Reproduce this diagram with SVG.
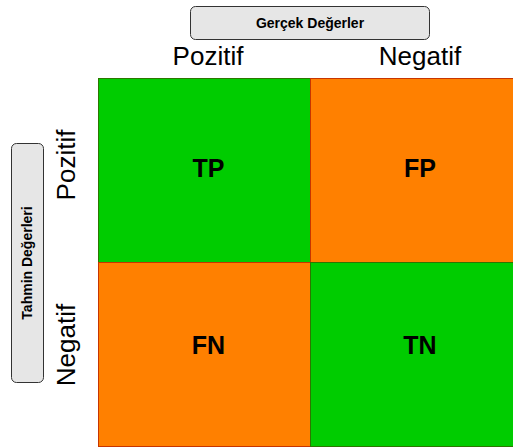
<svg xmlns="http://www.w3.org/2000/svg" width="513" height="448" viewBox="0 0 513 448">
<style>
.btn{fill:#E6E6E6;stroke:#333333;stroke-width:1}
.btxt{font-family:"Liberation Sans",Arial,sans-serif;font-size:14px;font-weight:bold;fill:#000;text-anchor:middle}
.ax{font-family:"Liberation Sans",Arial,sans-serif;font-size:26px;fill:#000;text-anchor:middle}
.g{fill:#00CC00;stroke:#2D7600;stroke-width:1}
.o{fill:#FF8000;stroke:#C73500;stroke-width:1}
.cl{font-family:"Liberation Sans",Arial,sans-serif;font-size:25px;font-weight:bold;fill:#000;text-anchor:middle}
</style>
<rect width="513" height="448" fill="#ffffff"/>
<g id="gercek">
<rect class="btn" x="190.5" y="6.5" width="239" height="33" rx="5"/>
<text class="btxt" x="310" y="28">Gerçek Değerler</text>
</g>
<g id="tahmin">
<rect class="btn" x="11.5" y="143.5" width="32" height="239" rx="5"/>
<text class="btxt" transform="translate(32,263) rotate(-90)">Tahmin Değerleri</text>
</g>
<g id="col-pozitif"><text class="ax" x="208" y="65">Pozitif</text></g>
<g id="col-negatif"><text class="ax" x="420" y="65">Negatif</text></g>
<g id="row-pozitif"><text class="ax" transform="translate(75,165) rotate(-90)">Pozitif</text></g>
<g id="row-negatif"><text class="ax" transform="translate(75,345) rotate(-90)">Negatif</text></g>
<g id="TP"><rect class="g" x="98.5" y="78.5" width="212" height="184"/><text class="cl" x="208.5" y="177">TP</text></g>
<g id="FP"><rect class="o" x="310.5" y="78.5" width="212" height="184"/><text class="cl" x="420" y="177">FP</text></g>
<g id="FN"><rect class="o" x="98.5" y="262.5" width="212" height="184"/><text class="cl" x="208.5" y="354">FN</text></g>
<g id="TN"><rect class="g" x="310.5" y="262.5" width="212" height="184"/><text class="cl" x="420" y="354">TN</text></g>
<g id="connectors"></g>
</svg>
